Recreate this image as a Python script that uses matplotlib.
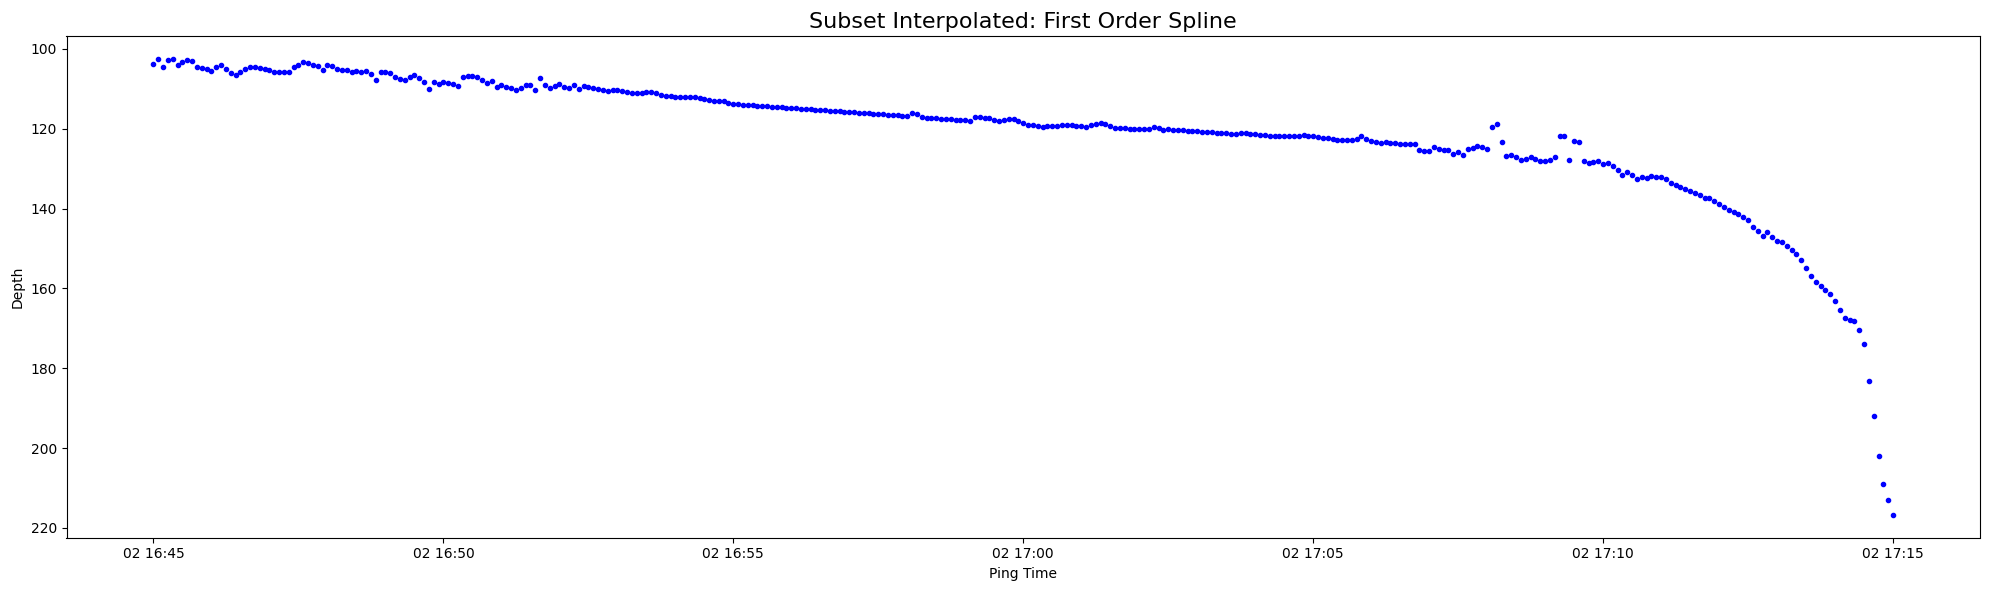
import matplotlib
matplotlib.use("Agg")
import matplotlib.pyplot as plt
import pandas as pd
import numpy as np

# Ping times: one ping every 5 s from 16:45:00 to 17:15:00
start_time = "2023-01-02 16:45:00"
end_time = "2023-01-02 17:15:00"
ping_interval = "5s"

# Depth values, one block per 5 minutes
depth_1645 = [
    103.8, 102.5, 104.5, 102.8, 102.5, 104.0, 103.3, 102.8, 103.0, 104.5,
    104.8, 105.0, 105.5, 104.5, 104.0, 105.0, 106.0, 106.5, 105.8, 105.0,
    104.5, 104.5, 104.8, 105.0, 105.3, 105.8, 105.8, 105.8, 105.8, 104.5,
    104.0, 103.3, 103.5, 104.0, 104.3, 105.3, 104.0, 104.3, 105.0, 105.3,
    105.3, 105.8, 105.5, 105.8, 105.5, 106.3, 107.8, 105.8, 105.8, 106.0,
    107.0, 107.5, 107.8, 107.0, 106.5, 107.3, 108.3, 110.0, 108.3, 108.8,
]
depth_1650 = [
    108.3, 108.5, 108.8, 109.3, 107.0, 106.8, 106.8, 107.0, 107.8, 108.5,
    108.0, 109.5, 109.0, 109.5, 109.8, 110.3, 109.8, 109.0, 109.0, 110.3,
    107.3, 109.0, 109.8, 109.3, 108.8, 109.5, 109.8, 109.0, 110.0, 109.3,
    109.5, 109.8, 110.0, 110.3, 110.5, 110.3, 110.3, 110.5, 110.8, 111.0,
    111.0, 111.0, 110.8, 110.8, 111.0, 111.5, 111.8, 111.8, 112.0, 112.0,
    112.0, 112.0, 112.0, 112.3, 112.5, 112.8, 113.0, 113.0, 113.0, 113.5,
]
depth_1655 = [
    113.8, 113.8, 114.1, 114.1, 114.1, 114.3, 114.3, 114.3, 114.6, 114.6,
    114.6, 114.8, 114.8, 114.8, 115.1, 115.1, 115.1, 115.3, 115.3, 115.3,
    115.6, 115.6, 115.6, 115.8, 115.8, 115.8, 116.1, 116.1, 116.1, 116.3,
    116.3, 116.3, 116.6, 116.6, 116.6, 116.8, 116.8, 116.1, 116.3, 117.1,
    117.3, 117.3, 117.3, 117.6, 117.6, 117.6, 117.8, 117.8, 117.8, 118.1,
    117.1, 117.1, 117.3, 117.3, 117.8, 118.1, 117.8, 117.7, 117.7, 118.0,
]
depth_1700 = [
    118.6, 119.1, 119.1, 119.3, 119.6, 119.3, 119.3, 119.3, 119.1, 119.1,
    119.1, 119.3, 119.3, 119.6, 119.1, 118.8, 118.6, 118.8, 119.3, 119.8,
    119.8, 119.8, 120.1, 120.1, 120.1, 120.1, 120.1, 119.6, 119.8, 120.3,
    120.1, 120.3, 120.3, 120.3, 120.6, 120.6, 120.6, 120.8, 120.8, 120.8,
    121.1, 121.1, 121.1, 121.3, 121.3, 121.1, 121.1, 121.3, 121.3, 121.6,
    121.6, 121.8, 121.8, 121.8, 121.8, 121.8, 121.8, 121.8, 121.6, 121.8,
]
depth_1705 = [
    121.8, 122.1, 122.3, 122.3, 122.6, 122.8, 122.8, 122.8, 122.8, 122.6,
    121.8, 122.6, 123.1, 123.3, 123.6, 123.3, 123.6, 123.6, 123.8, 123.8,
    123.8, 123.8, 125.4, 125.6, 125.6, 124.6, 125.1, 125.4, 125.4, 126.4,
    125.9, 126.6, 125.1, 124.8, 124.3, 124.6, 125.1, 119.6, 118.8, 123.3,
    126.9, 126.6, 127.1, 127.9, 127.6, 127.1, 127.6, 128.1, 128.1, 127.9,
    127.1, 121.8, 121.8, 127.9, 123.1, 123.3, 128.1, 128.6, 128.4, 128.1,
]
depth_1710 = [
    128.9, 128.6, 129.4, 130.4, 131.6, 130.9, 131.6, 132.6, 132.1, 132.4,
    131.9, 132.1, 132.1, 132.6, 133.6, 134.1, 134.6, 135.1, 135.6, 136.1,
    136.6, 137.4, 137.4, 138.1, 138.9, 139.6, 140.4, 140.9, 141.4, 142.1,
    142.9, 144.7, 145.7, 146.9, 145.9, 147.2, 148.2, 148.4, 149.4, 150.4,
    151.5, 153.0, 155.0, 157.0, 158.5, 159.5, 160.5, 161.5, 163.2, 165.3,
    167.5, 168.0, 168.3, 170.5, 174.0, 183.3, 192.1, 202.1, 208.9, 212.9,
]
depth_1715 = [216.7]

depth = depth_1645 + depth_1650 + depth_1655 + depth_1700 + depth_1705 + depth_1710 + depth_1715
ping_time = pd.date_range(start_time, end_time, freq=ping_interval)

fig, ax = plt.subplots(figsize=(19.9, 5.9), dpi=100)
ax.plot(ping_time, depth, "b.", linestyle="none")
ax.invert_yaxis()
ax.set_title("Subset Interpolated: First Order Spline", fontsize=16)
ax.set_xlabel("Ping Time")
ax.set_ylabel("Depth")
fig.subplots_adjust(left=66.5 / 1990, right=1980 / 1990,
                    top=1 - 36 / 590, bottom=1 - 537.5 / 590)
fig.savefig("out.png", dpi=100)
